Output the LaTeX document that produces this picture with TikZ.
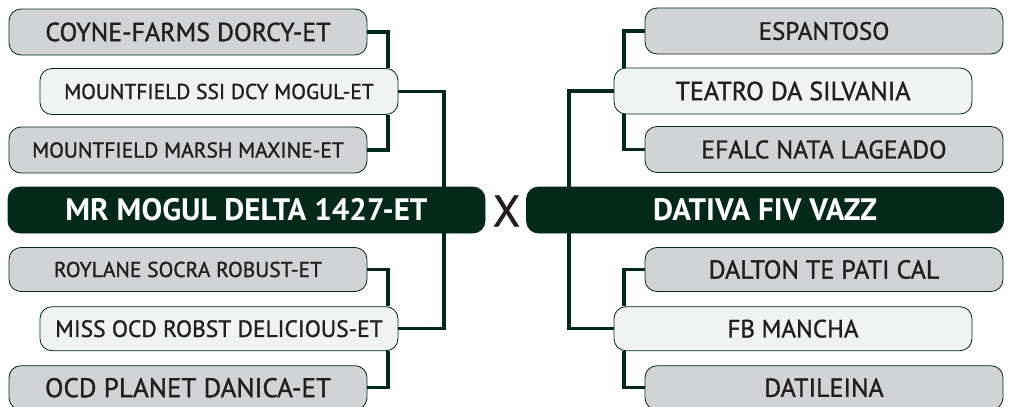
\documentclass[tikz,border=0pt]{standalone}
\usepackage{fontspec}
\setmainfont{PT Sans}
\newfontfamily\medium{PT Sans}[FakeBold=1.2]
\definecolor{pine}{HTML}{03291A}
\definecolor{boxgray}{HTML}{D1D3D4}
\definecolor{boxlight}{HTML}{F1F2F2}
\definecolor{ink}{HTML}{231F20}
\newcommand{\fsz}[1]{\medium\fontsize{#1}{#1}\selectfont}
\tikzset{
	entry/.style={draw=pine, line width=0.8pt, rounded corners=12pt, minimum width=358pt, minimum height=46pt, inner sep=0pt, text=ink},
	grand/.style={entry, fill=boxgray},
	parent/.style={entry, fill=boxlight},
	animal/.style={entry, fill=pine, text=white, minimum width=477pt, font=\bfseries\fontsize{31}{31}\selectfont},
	low/.style={minimum height=44pt},
	link/.style={pine, line width=3.5pt, line cap=butt, line join=miter},
}
\begin{document}
\begin{tikzpicture}[x=1pt, y=-1pt]
	\clip (0,0) rectangle (1013,407);
	\path
	(388,0) coordinate (jL)
	(444,0) coordinate (kL)
	(624,0) coordinate (jR)
	(569,0) coordinate (kR)
	;
	% left pedigree
	\node[grand, font=\fsz{26}] (L1) at (188,32) {COYNE-FARMS DORCY-ET};
	\node[parent, font=\fsz{21.5}] (L2) at (219,91.5) {MOUNTFIELD SSI DCY MOGUL-ET};
	\node[grand, font=\fsz{21.5}] (L3) at (188,150) {MOUNTFIELD MARSH MAXINE-ET};
	\node[animal] (LM) at (246.5,210) {MR MOGUL DELTA 1427-ET};
	\node[grand, low, font=\fsz{21.5}] (L4) at (188,269.5) {ROYLANE SOCRA ROBUST-ET};
	\node[parent, low, font=\fsz{23.5}] (L5) at (219,328.7) {MISS OCD ROBST DELICIOUS-ET};
	\node[grand, low, font=\fsz{27}] (L6) at (188,387.7) {OCD PLANET DANICA-ET};
	% right pedigree
	\node[grand, font=\fsz{25}] (R1) at (824,31) {ESPANTOSO};
	\node[parent, font=\fsz{26}] (R2) at (793,91) {TEATRO DA SILVANIA};
	\node[grand, font=\fsz{25.5}] (R3) at (824,149.5) {EFALC NATA LAGEADO};
	\node[animal] (RM) at (765,210) {DATIVA FIV VAZZ};
	\node[grand, low, font=\fsz{26}] (R4) at (824,269.5) {DALTON TE PATI CAL};
	\node[parent, low, font=\fsz{25}] (R5) at (793,328.7) {FB MANCHA};
	\node[grand, low, font=\fsz{26}] (R6) at (824,387.7) {DATILEINA};
	\node[text=ink, font=\fsz{44}, inner sep=0pt] (cross) at (506.5,211) {X};
	% connectors
	\draw[link] (L1.east) -| (L2.north -| jL);
	\draw[link] (L3.east) -| (L2.south -| jL);
	\draw[link] (L2.east) -| (LM.north -| kL);
	\draw[link] (L5.east) -| (LM.south -| kL);
	\draw[link] (L4.east) -| (L5.north -| jL);
	\draw[link] (L6.east) -| (L5.south -| jL);
	\draw[link] (R1.west) -| (R2.north -| jR);
	\draw[link] (R3.west) -| (R2.south -| jR);
	\draw[link] (R2.west) -| (RM.north -| kR);
	\draw[link] (R5.west) -| (RM.south -| kR);
	\draw[link] (R4.west) -| (R5.north -| jR);
	\draw[link] (R6.west) -| (R5.south -| jR);
\end{tikzpicture}
\end{document}
